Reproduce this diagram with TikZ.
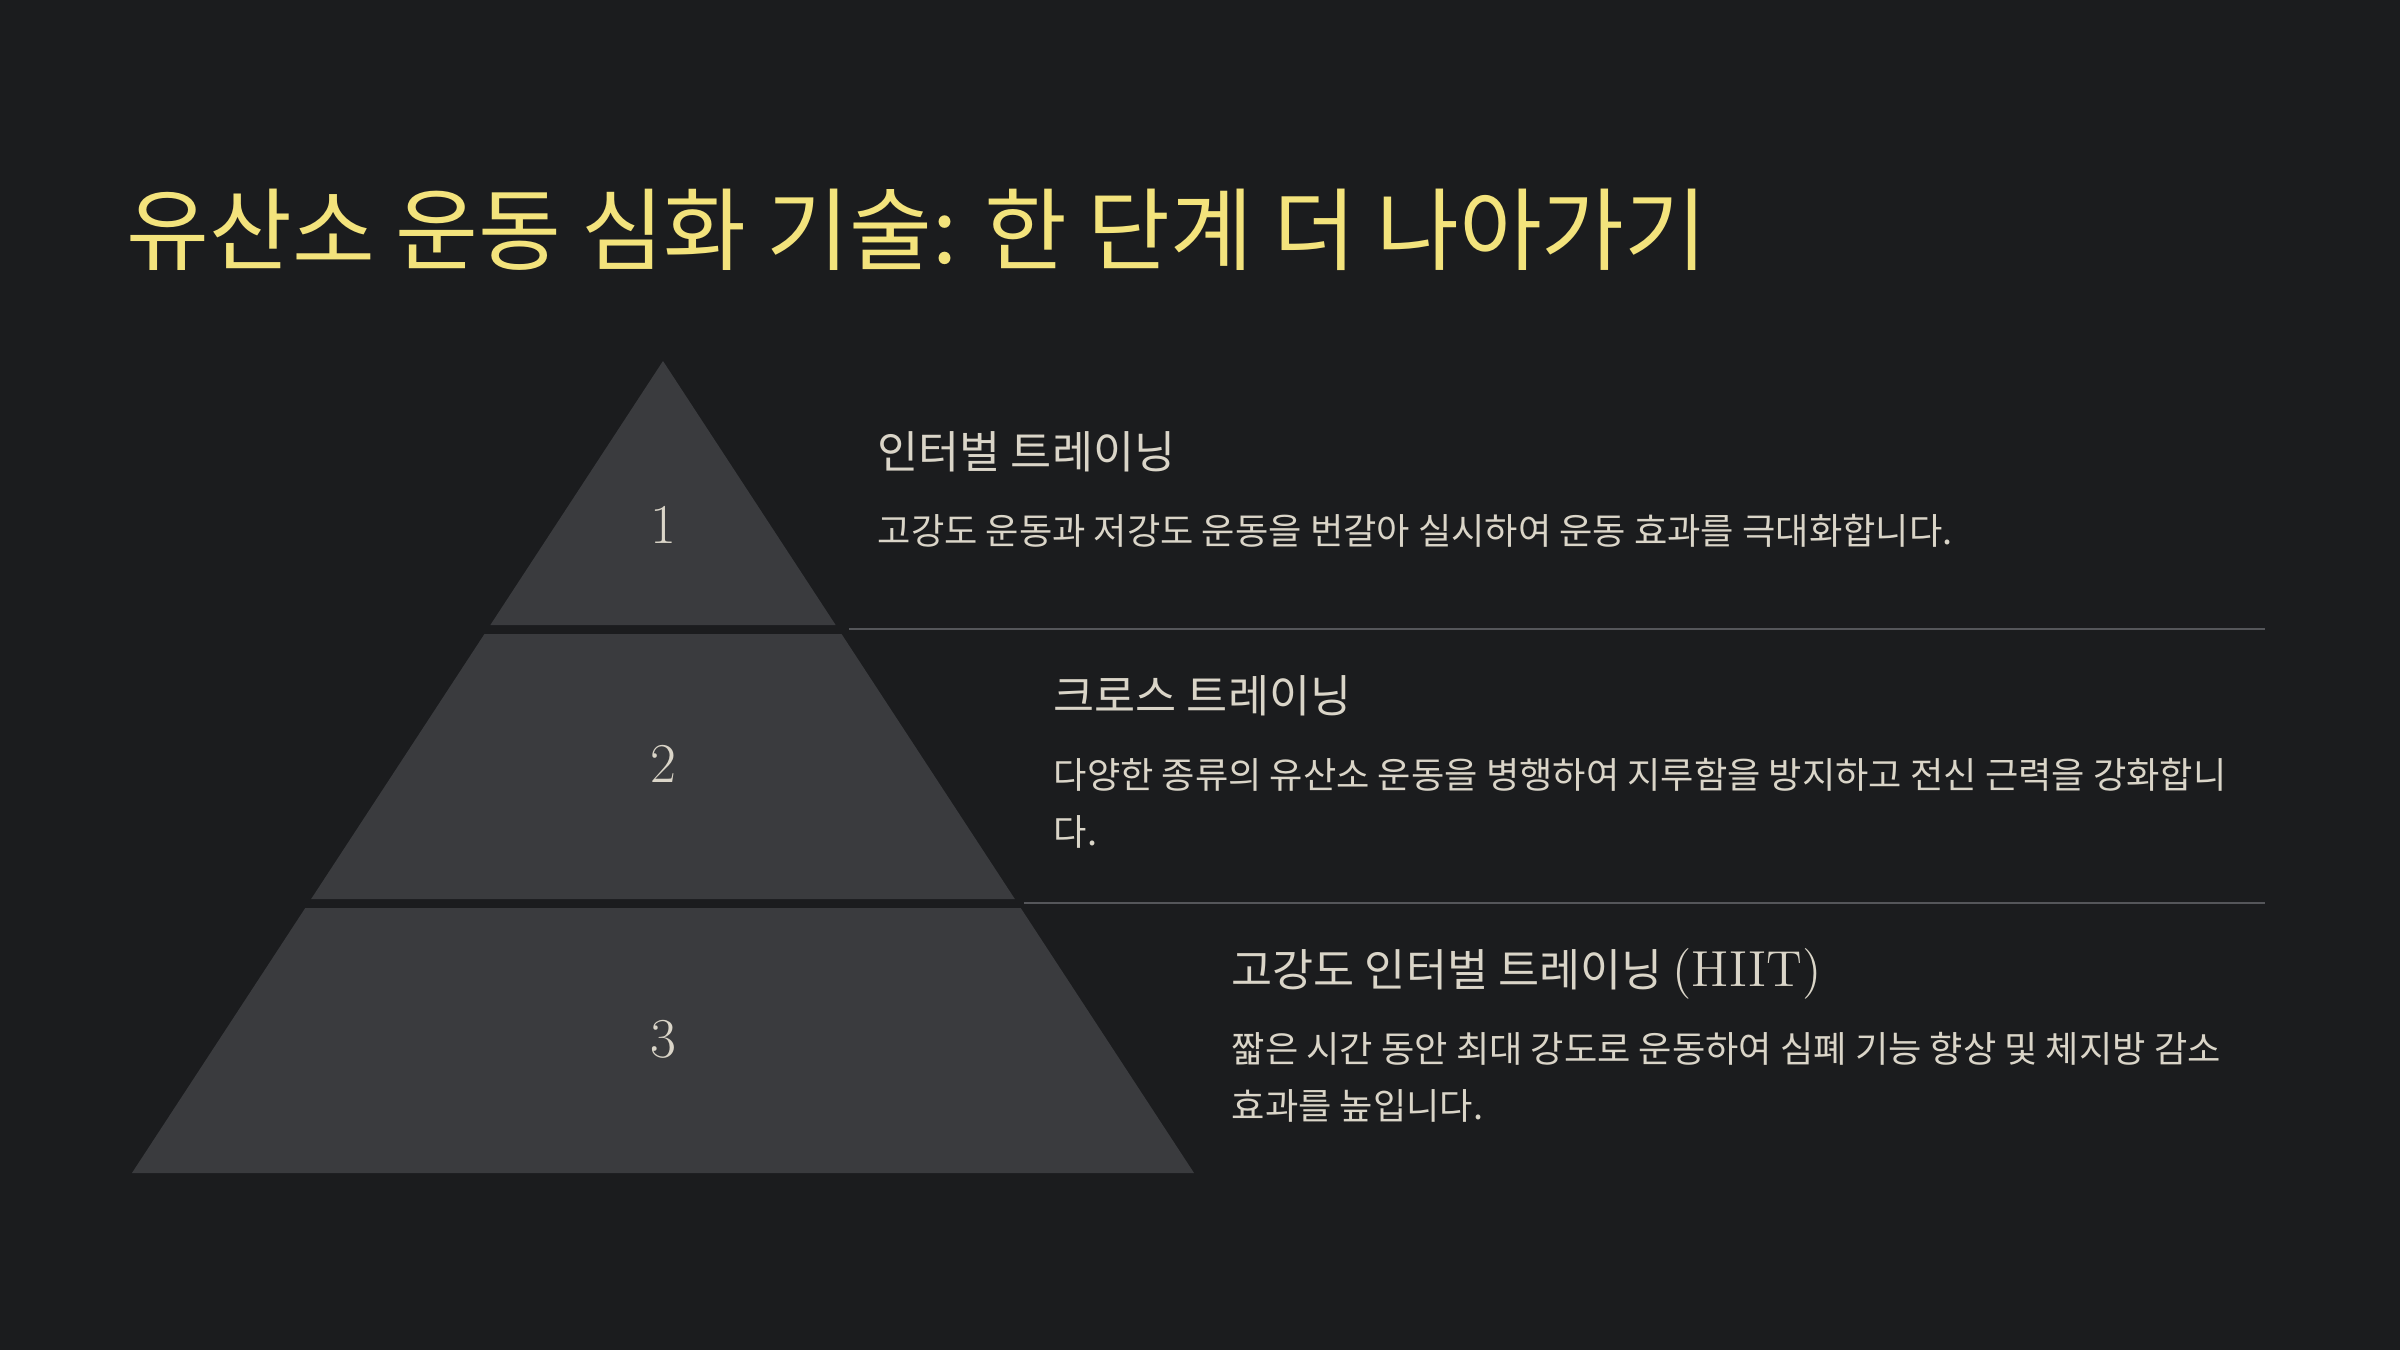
\documentclass[tikz,border=0pt]{standalone}
\usepackage{fontspec}
\usepackage{xcolor}
\newfontfamily\krfont{Noto Sans CJK KR}
\definecolor{bgdark}{HTML}{1B1C1E}
\definecolor{tiergray}{HTML}{3A3B3E}
\definecolor{titleyellow}{HTML}{F3E37C}
\definecolor{textbeige}{HTML}{DAD5C8}
\definecolor{sepgray}{HTML}{55565A}
\usetikzlibrary{positioning}

\begin{document}
\begin{tikzpicture}[x=0.01cm,y=-0.01cm,
  tier/.style={fill=tiergray,draw=none},
  tiernum/.style={text=textbeige,font=\fontsize{16}{16}\selectfont,inner sep=0},
  headtext/.style={anchor=base west,inner sep=0,text=textbeige,font=\krfont\fontsize{12.7}{15}\selectfont},
  bodytext/.style={anchor=base west,inner sep=0,align=left,text=textbeige,font=\krfont\fontsize{10.3}{16.2}\selectfont},
  sepline/.style={draw=sepgray,line width=0.6pt}]
  \fill[bgdark] (0,0) rectangle (2400,1350);
  \useasboundingbox (0,0) rectangle (2400,1350);
  % title
  \node[anchor=base west,inner sep=0,text=titleyellow,font=\krfont\fontsize{25.6}{30}\selectfont] (title) at (126,263) {유산소 운동 심화 기술: 한 단계 더 나아가기};
  % pyramid tiers
  \foreach \i/\ya/\yb/\yn in {1/361/625/525, 2/634/899/764, 3/908/1173/1039}{
    \fill[tier] ({663-0.654*(\ya-361)},\ya) -- ({663+0.654*(\ya-361)},\ya) -- ({663+0.654*(\yb-361)},\yb) -- ({663-0.654*(\yb-361)},\yb) -- cycle;
    \node[tiernum] (num\i) at (663,\yn) {\i};
  }
  % separators
  \coordinate (sepA) at (849,629);
  \coordinate (sepAend) at (2265,629);
  \coordinate (sepB) at (1024,903);
  \coordinate (sepBend) at (2265,903);
  \draw[sepline] (sepA) -- (sepAend);
  \draw[sepline] (sepB) -- (sepBend);
  % tier texts (base of multi-line text = last line)
  \node[headtext] (headA) at (877,468) {인터벌 트레이닝};
  \node[bodytext] (bodyA) at (877,544) {고강도 운동과 저강도 운동을 번갈아 실시하여 운동 효과를 극대화합니다.};
  \node[headtext] (headB) at (1053,712) {크로스 트레이닝};
  \node[bodytext] (bodyB) at (1053,845) {다양한 종류의 유산소 운동을 병행하여 지루함을 방지하고 전신 근력을 강화합니\\다.};
  \node[headtext] (headC) at (1231,986) {고강도 인터벌 트레이닝 {\rmfamily\fontsize{14.4}{15}\selectfont(HIIT)}};
  \node[bodytext] (bodyC) at (1231,1119) {짧은 시간 동안 최대 강도로 운동하여 심폐 기능 향상 및 체지방 감소\\효과를 높입니다.};
\end{tikzpicture}
\end{document}
